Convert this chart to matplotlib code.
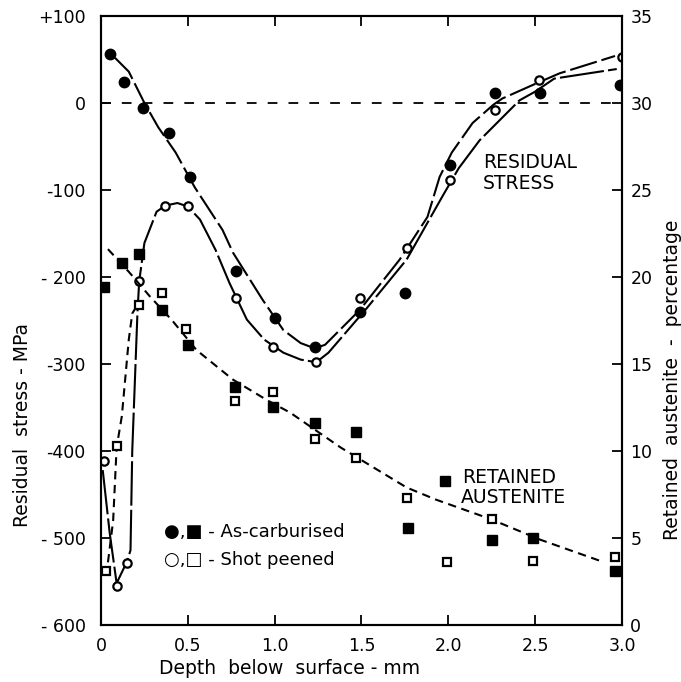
import matplotlib
matplotlib.use('Agg')
import matplotlib.pyplot as plt

plt.rcParams['font.family'] = ['DejaVu Sans']
plt.rcParams['lines.scale_dashes'] = False

# residual stress (MPa), as-carburised (filled circles)
ac_depth = [0.05, 0.13, 0.24, 0.39, 0.51, 0.78, 1.00, 1.23, 1.49, 1.75, 2.01, 2.27, 2.53, 2.99]
ac_stress = [56, 24, -6, -35, -85, -193, -247, -280, -240, -218, -71, 11, 11, 21]

# residual stress (MPa), shot peened (open circles)
sp_depth = [0.02, 0.09, 0.15, 0.22, 0.37, 0.50, 0.78, 0.99, 1.24, 1.49, 1.76, 2.01, 2.27, 2.52, 3.00]
sp_stress = [-411, -555, -529, -205, -118, -119, -224, -280, -298, -224, -167, -89, -8, 26, 53]

# retained austenite (%), as-carburised (filled squares)
ac_aus_depth = [0.02, 0.12, 0.22, 0.35, 0.50, 0.77, 0.99, 1.23, 1.47, 1.77, 1.98, 2.25, 2.49, 2.96]
ac_aus = [19.4, 20.8, 21.3, 18.1, 16.1, 13.7, 12.5, 11.6, 11.1, 5.6, 8.3, 4.9, 5.0, 3.1]

# retained austenite (%), shot peened (open squares)
sp_aus_depth = [0.03, 0.09, 0.22, 0.35, 0.49, 0.77, 0.99, 1.23, 1.47, 1.76, 1.99, 2.25, 2.49, 2.96]
sp_aus = [3.1, 10.3, 18.4, 19.1, 17.0, 12.9, 13.4, 10.7, 9.6, 7.3, 3.6, 6.1, 3.7, 3.9]

# hand drawn curves
curve1_x = [0.08, 0.16, 0.25, 0.33, 0.43, 0.54, 0.70, 0.76, 0.93, 1.05, 1.15, 1.23, 1.29, 1.49,
            1.72, 1.88, 1.95, 2.02, 2.14, 2.26, 2.31, 2.49, 2.64, 2.96]
curve1_y = [52, 36, 0, -28, -57, -97, -146, -172, -226, -261, -276, -282, -278, -238,
            -180, -131, -85, -57, -23, -2, 5, 21, 34, 54]

curve2_x = [0.01, 0.05, 0.09, 0.15, 0.17, 0.18, 0.21, 0.22, 0.25, 0.32, 0.37, 0.44, 0.50, 0.57,
            0.66, 0.74, 0.84, 0.94, 1.05, 1.15, 1.24, 1.31, 1.53, 1.76, 1.97, 2.06, 2.18, 2.41,
            2.50, 2.61, 2.97]
curve2_y = [-422, -494, -552, -527, -514, -400, -241, -205, -161, -125, -118, -115, -119, -134,
            -169, -207, -249, -272, -287, -295, -298, -287, -236, -180, -106, -75, -43, 3,
            13, 28, 39]

steep_x = [0.04, 0.07, 0.09, 0.12, 0.16, 0.18, 0.21]
steep_y = [3.6, 6.0, 10.2, 12.0, 16.4, 17.9, 18.4]

trend_x = [0.04, 0.16, 0.28, 0.41, 0.55, 0.76, 0.96, 1.09, 1.38, 1.76, 1.93, 2.24, 2.53, 2.87]
trend_y = [21.6, 20.3, 18.9, 17.5, 15.8, 14.1, 12.9, 12.2, 10.2, 7.9, 7.2, 6.1, 4.9, 3.7]

xticks = [0, 0.5, 1.0, 1.5, 2.0, 2.5, 3.0]
xtick_labels = ['0', '0.5', '1.0', '1.5', '2.0', '2.5', '3.0']
yticks = [100, 0, -100, -200, -300, -400, -500, -600]
ytick_labels = ['+100', '0', '-100', '- 200', '-300', '-400', '- 500', '- 600']
y2ticks = [0, 5, 10, 15, 20, 25, 30, 35]

fig = plt.figure(figsize=(6.81, 6.82), dpi=100)
ax = fig.add_axes([0.1483, 0.0836, 0.765, 0.893])
ax2 = ax.twinx()

ax.axhline(0, color='black', lw=1.3, dashes=(7, 8))
ax.plot(curve1_x, curve1_y, color='black', lw=1.5, dashes=(20, 3.5))
ax.plot(curve2_x, curve2_y, color='black', lw=1.5, dashes=(32, 3))
ax.plot(ac_depth, ac_stress, 'o', color='black', ms=7.5, ls='none')
ax.plot(sp_depth, sp_stress, 'o', mfc='white', mec='black', mew=1.6, ms=6, ls='none')

ax2.plot(steep_x, steep_y, color='black', lw=1.5, dashes=(6, 4))
ax2.plot(trend_x, trend_y, color='black', lw=1.5, dashes=(6, 4))
ax2.plot(ac_aus_depth, ac_aus, 's', color='black', ms=6.5, ls='none')
ax2.plot(sp_aus_depth, sp_aus, 's', mfc='white', mec='black', mew=1.6, ms=5.5, ls='none')

ax.set_xlim(0, 3.0)
ax.set_ylim(-600, 100)
ax2.set_ylim(0, 35)

ax.set_xticks(xticks)
ax.set_xticklabels(xtick_labels)
ax.set_yticks(yticks)
ax.set_yticklabels(ytick_labels)
ax2.set_yticks(y2ticks)

ax.tick_params(axis='x', direction='in', top=True, length=7, width=1.3, pad=9, labelsize=12.5)
ax.tick_params(axis='y', direction='in', length=7, width=1.3, pad=11, labelsize=12.5)
ax2.tick_params(axis='y', direction='in', length=7, width=1.3, pad=6, labelsize=12.5)
for a in (ax, ax2):
    for s in a.spines.values():
        s.set_linewidth(1.5)

ax.text(2.20, -69, 'RESIDUAL', fontsize=13.5, va='center', ha='left')
ax.text(2.20, -92, 'STRESS', fontsize=13.5, va='center', ha='left')
ax.text(2.08, -431, 'RETAINED', fontsize=13.5, va='center', ha='left')
ax.text(2.07, -454, 'AUSTENITE', fontsize=13.5, va='center', ha='left')
ax.text(0.36, -493, '●,■ - As-carburised', fontsize=13, va='center', ha='left')
ax.text(0.36, -525, '○,□ - Shot peened', fontsize=13, va='center', ha='left')

fig.text(23 / 681, 1 - 425 / 682, 'Residual  stress - MPa', rotation=90,
         fontsize=13.5, ha='center', va='center')
fig.text(672 / 681, 1 - 380 / 682, 'Retained  austenite  -  percentage', rotation=90,
         fontsize=13.5, ha='center', va='center')
fig.text(290 / 681, 1 - 668 / 682, 'Depth  below  surface - mm',
         fontsize=13.5, ha='center', va='center')

fig.savefig('out.png', dpi=100)
